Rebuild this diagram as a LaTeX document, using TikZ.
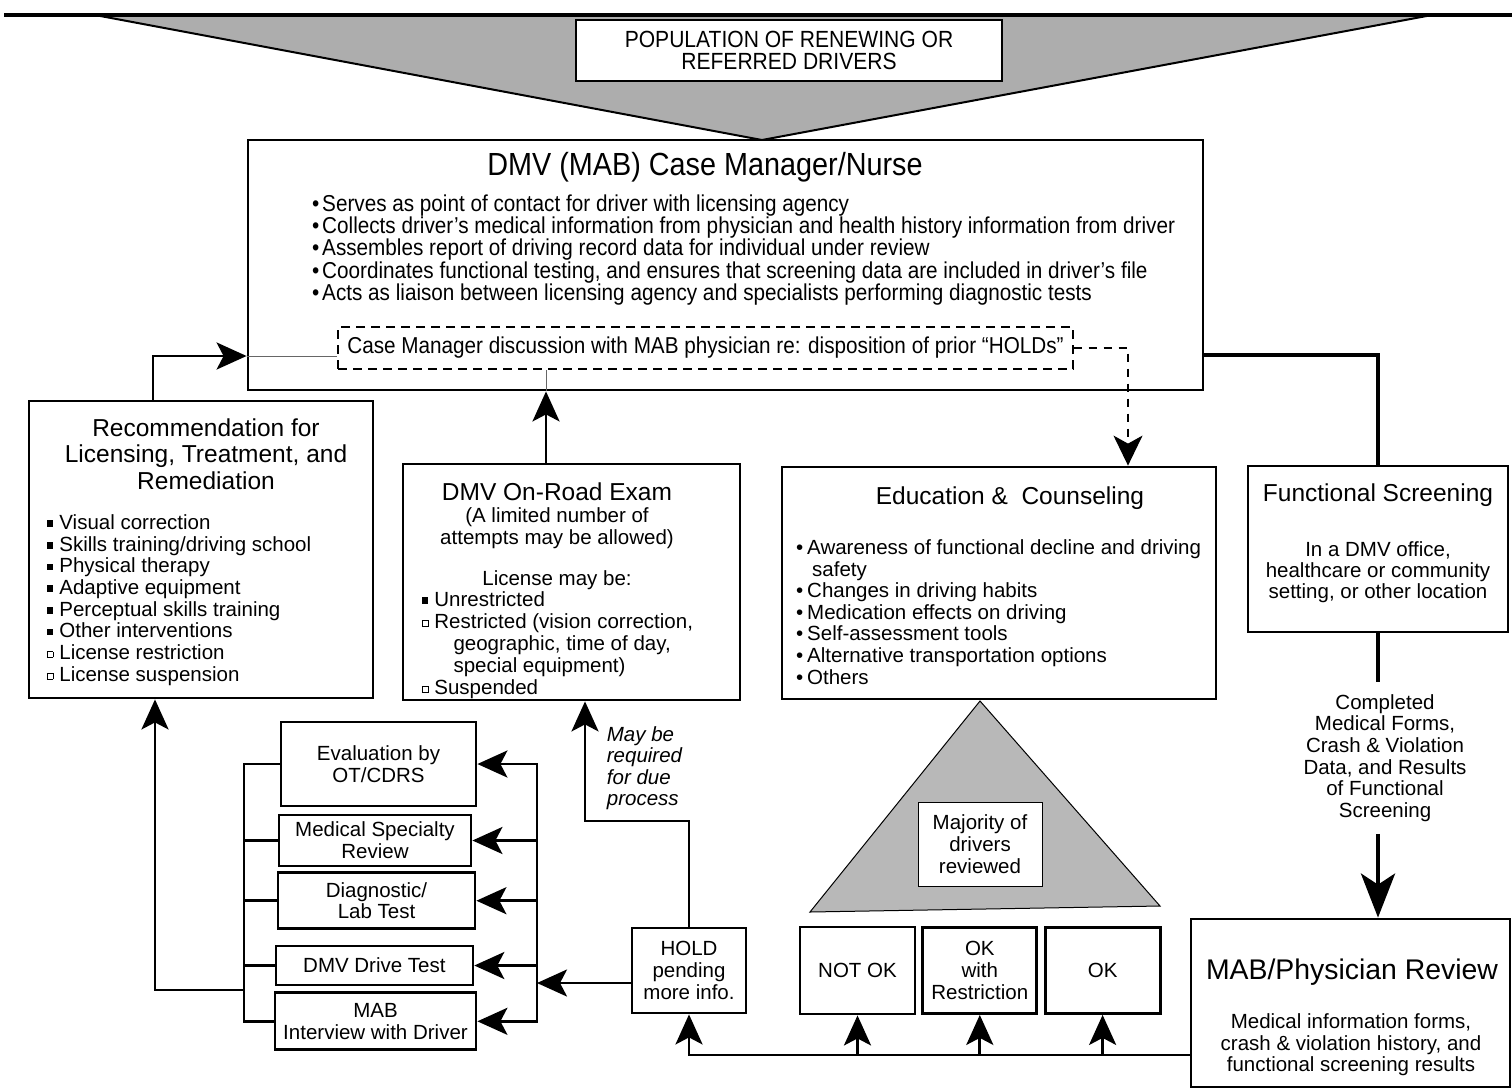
\documentclass[tikz,border=0pt]{standalone}
\usepackage{fontspec}
\setmainfont{Liberation Sans}
\newfontfamily\narrowfont{Liberation Sans}[FakeStretch=0.9]
\usetikzlibrary{arrows.meta}
\usetikzlibrary{positioning}

\newcommand{\fsq}{\makebox[12.5pt][l]{\rule[2.5pt]{6pt}{6.5pt}}}
\newcommand{\esq}{\makebox[12.5pt][l]{\raisebox{2.5pt}{\setlength{\fboxsep}{0pt}\setlength{\fboxrule}{0.8pt}\fbox{\rule{0pt}{5pt}\hspace{5pt}}}}}
\newcommand{\bul}{\makebox[11pt][l]{\textbullet}}
\newcommand{\nbul}{\makebox[10pt][l]{\textbullet}}

\tikzstyle{box} = [draw, rectangle, line width=2.8pt, fill=white, inner sep=0pt, align=center]
\tikzstyle{thinbox} = [draw, rectangle, line width=1pt, fill=white, inner sep=0pt, align=center]
\tikzstyle{holdbox} = [draw, rectangle, line width=1.2pt, dash pattern=on 9pt off 6pt, inner sep=0pt]
\tikzstyle{headtxt} = [inner sep=0pt, align=center, font=\fontsize{24.5}{26.7}\selectfont]
\tikzstyle{txt} = [inner sep=0pt, align=center]
\tikzstyle{itemlist} = [inner sep=0pt, align=left, anchor=west]
\tikzstyle{arrow} = [line width=2.8pt, -{Stealth[length=30pt, width=27pt, inset=7pt]}]
\tikzstyle{line} = [line width=2.8pt, line cap=rect, -]
\tikzstyle{fatline} = [line width=4pt, -]
\tikzstyle{bigarrow} = [line width=4.5pt, -{Stealth[length=44pt, width=34pt, inset=11pt]}]
\tikzstyle{dashline} = [line width=1.5pt, dash pattern=on 8pt off 7pt, -{Stealth[length=30pt, width=29pt, inset=8pt]}]
\tikzstyle{hairline} = [line width=0.8pt, black!60]

\begin{document}
\begin{tikzpicture}[x=1pt, y=-1pt, font=\fontsize{20.5}{21.7}\selectfont]
	\useasboundingbox (0,0) rectangle (1512,1088);
	
	% funnel at the top
	\fill[black!32] (95,15) -- (1432,15) -- (762,140) -- cycle;
	\draw[line width=2pt] (95,15) -- (762,140) -- (1432,15);
	\draw[line width=3.5pt] (4,15) -- (1512,15);
	\node[box, line width=2pt, minimum width=426pt, minimum height=61pt, font=\narrowfont\fontsize{23.4}{21.5}\selectfont] (pop) at (789,50.5) {POPULATION OF RENEWING OR\\REFERRED DRIVERS};
	
	% case manager
	\node[box, minimum width=955pt, minimum height=250pt] (cm) at (725.5,265) {};
	\node[txt, font=\narrowfont\fontsize{32}{34}\selectfont] (cmt) at (705,167) {DMV (MAB) Case Manager/Nurse};
	\node[itemlist, font=\narrowfont\fontsize{23}{21.3}\selectfont] (cml) at (312,250) {\nbul Serves as point of contact for driver with licensing agency\\
		\nbul Collects driver’s medical information from physician and health history information from driver\\
		\nbul Assembles report of driving record data for individual under review\\
		\nbul Coordinates functional testing, and ensures that screening data are included in driver’s file\\
		\nbul Acts as liaison between licensing agency and specialists performing diagnostic tests};
	\node[holdbox, minimum width=735pt, minimum height=42pt, font=\narrowfont\fontsize{23}{21.3}\selectfont] (hd) at (705.5,348) {Case Manager discussion with MAB physician re: disposition of prior “HOLDs”};
	
	% recommendation
	\node[box, minimum width=344pt, minimum height=297pt] (rec) at (201,549.5) {};
	\node[headtxt] (rect) at (206,454) {Recommendation for\\Licensing, Treatment, and\\Remediation};
	\node[itemlist] (recl) at (46.7,600) {\fsq Visual correction\\ \fsq Skills training/driving school\\ \fsq Physical therapy\\ \fsq Adaptive equipment\\ \fsq Perceptual skills training\\ \fsq Other interventions\\ \esq License restriction\\ \esq License suspension};
	
	% on-road exam
	\node[box, minimum width=337pt, minimum height=236pt] (exam) at (571.5,582) {};
	\node[headtxt] (examt) at (557,491.7) {DMV On-Road Exam};
	\node[txt] (examn) at (557,528) {(A limited number of\\attempts may be allowed)};
	\node[txt] (exams) at (557,580) {License may be:};
	\node[itemlist, font=\fontsize{20.5}{22}\selectfont] (examl) at (421.7,645) {\fsq Unrestricted\\ \esq Restricted (vision correction,\\ \hspace*{31.6pt}geographic, time of day,\\ \hspace*{31.6pt}special equipment)\\ \esq Suspended};
	
	% education
	\node[box, minimum width=434pt, minimum height=232pt] (edu) at (999,583) {};
	\node[headtxt] (edut) at (1010,498) {Education \&\ \ Counseling};
	\node[itemlist, font=\fontsize{20.5}{21.6}\selectfont] (edul) at (796,612) {\bul Awareness of functional decline and driving\\ \hspace*{16pt}safety\\ \bul Changes in driving habits\\ \bul Medication effects on driving\\ \bul Self-assessment tools\\ \bul Alternative transportation options\\ \bul Others};
	
	% functional screening
	\node[box, minimum width=260pt, minimum height=166pt] (fs) at (1378,549) {};
	\node[headtxt] (fst) at (1378,495) {Functional Screening};
	\node[txt, font=\fontsize{20.5}{20.8}\selectfont] (fsl) at (1378,572) {In a DMV office,\\healthcare or community\\setting, or other location};
	\node[txt, font=\fontsize{20.5}{21.6}\selectfont] (cfl) at (1385,758) {Completed\\Medical Forms,\\Crash \& Violation\\Data, and Results\\of Functional\\Screening};
	
	% physician review
	\node[box, minimum width=319pt, minimum height=168pt] (mab) at (1350.5,1003) {};
	\node[txt, font=\fontsize{28.4}{30}\selectfont] (mabt) at (1352,972) {MAB/Physician Review};
	\node[txt, font=\fontsize{20.5}{21.5}\selectfont] (mabl) at (1351,1045) {Medical information forms,\\crash \& violation history, and\\functional screening results};
	
	% majority of drivers
	\fill[black!28] (980,701) -- (1160,906) -- (810,912) -- cycle;
	\draw[line width=1pt] (980,701) -- (1160,906) -- (810,912) -- cycle;
	\node[thinbox, minimum width=124pt, minimum height=84pt] (maj) at (980,844) {Majority of\\drivers\\reviewed};
	
	\node[box, minimum width=115pt, minimum height=87pt] (notok) at (857.5,970.5) {NOT OK};
	\node[box, minimum width=114pt, minimum height=86pt, right=5pt of notok] (okr) {OK\\with\\Restriction};
	\node[box, minimum width=115pt, minimum height=86pt, right=5.5pt of okr] (ok) {OK};
	\node[box, minimum width=114pt, minimum height=85pt] (hold) at (689,970.5) {HOLD\\pending\\more info.};
	
	% further evaluations
	\node[box, minimum width=195pt, minimum height=84pt] (ev) at (378.5,764) {Evaluation by\\OT/CDRS};
	\node[box, minimum width=192pt, minimum height=51pt] (med) at (375,840.5) {Medical Specialty\\Review};
	\node[box, minimum width=197pt, minimum height=56pt] (diag) at (376.5,900.7) {Diagnostic/\\Lab Test};
	\node[box, minimum width=197pt, minimum height=39pt] (drv) at (374.4,965.5) {DMV Drive Test};
	\node[box, minimum width=201pt, minimum height=57pt] (mabi) at (375.5,1021.3) {MAB\\Interview with Driver};
	
	\node[itemlist, font=\itshape\fontsize{20.5}{21.5}\selectfont] (mbr) at (606.7,768) {May be\\required\\for due\\process};
	
	% connectors
	\coordinate (ain) at ([yshift=-8pt]hd.west);
	\draw[arrow] ([xshift=-48pt]rec.north) |- (cm.west |- ain);
	\draw[hairline] (cm.west |- ain) -- (ain);
	
	\coordinate (eup) at ([xshift=-25.5pt]exam.north);
	\draw[arrow] (eup) -- (eup |- cm.south);
	\draw[hairline] (eup |- cm.south) -- (eup |- hd.south);
	
	\coordinate (dk) at (1128,348);
	\draw[dashline] (hd.east) -| (edu.north -| dk);
	
	\coordinate (fsin) at (cm.east |- hd.east);
	\draw[fatline] ([yshift=-7pt]fsin) -| (fs.north);
	\coordinate (cft) at ([yshift=12pt]cfl.north);
	\draw[fatline] (fs.south) -- (fs.south |- cft);
	\coordinate (cfb) at ([yshift=-12pt]cfl.south);
	\draw[bigarrow] (fs.south |- cfb) -- (fs.south |- mab.north);
	
	\coordinate (bus) at (689,1055);
	\draw[line] (mab.west |- bus) -- (hold.south |- bus);
	\foreach \b in {hold, notok, okr, ok}
		\draw[arrow] (\b.south |- bus) -- (\b.south);
	
	\coordinate (dp) at (585,821);
	\draw[arrow] (hold.north) |- (dp) -- (dp |- exam.south);
	
	\coordinate (hw) at ([yshift=-12.5pt]hold.west);
	\coordinate (rbx) at (537,0);
	\draw[arrow] (hw) -- (hw -| rbx);
	\draw[line] (ev.east -| rbx) -- (mabi.east -| rbx);
	\foreach \b in {ev, med, diag, drv, mabi}
		\draw[arrow] (\b.east -| rbx) -- (\b.east);
	
	\coordinate (lbx) at (244,0);
	\draw[line] (ev.west -| lbx) -- (mabi.west -| lbx);
	\foreach \b in {ev, med, diag, drv, mabi}
		\draw[line] (\b.west) -- (\b.west -| lbx);
	\coordinate (lb) at (244,990);
	\draw[arrow] (lb) -| ([xshift=-46pt]rec.south);
	
\end{tikzpicture}
\end{document}
